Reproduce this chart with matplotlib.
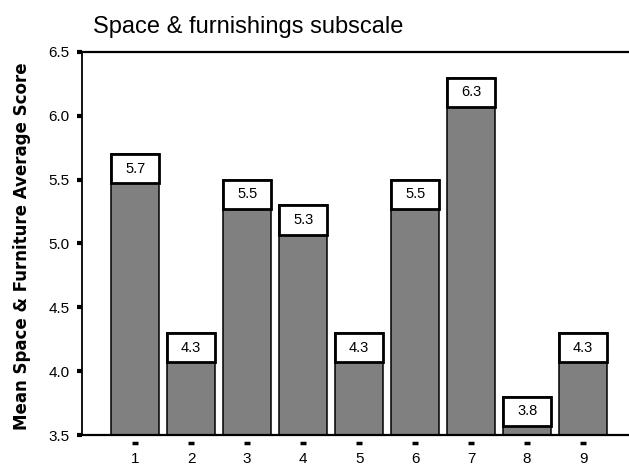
import matplotlib.pyplot as plt
from matplotlib.patches import Rectangle
import matplotlib.transforms as mtransforms

plt.rcParams['font.family'] = ['Liberation Sans', 'DejaVu Sans']

# Mean score per group
groups = ['1', '2', '3', '4', '5', '6', '7', '8', '9']
scores = [5.7, 4.3, 5.5, 5.3, 4.3, 5.5, 6.3, 3.8, 4.3]
yticks = [3.5, 4.0, 4.5, 5.0, 5.5, 6.0, 6.5]

fig = plt.figure(figsize=(6.29, 4.65), dpi=100)
ax = fig.add_axes([82 / 629, 30 / 465, 547 / 629, 383 / 465])

x = list(range(1, len(groups) + 1))
bar_w = 0.86
ax.bar(x, [s - 3.5 for s in scores], bottom=3.5, width=bar_w,
       color='#808080', edgecolor='black', linewidth=1.1, zorder=2)

# value boxes sitting inside the top of each bar
box_h = 0.23
for xi, s in zip(x, scores):
    ax.add_patch(Rectangle((xi - bar_w / 2, s - box_h), bar_w, box_h,
                           facecolor='white', edgecolor='black',
                           linewidth=2.0, zorder=3))
    ax.text(xi, s - box_h / 2, f'{s:.1f}', ha='center', va='center',
            fontsize=10.5, zorder=4)

ax.set_xlim(0.05, 9.82)
ax.set_ylim(3.5, 6.5)
ax.set_yticks(yticks)
ax.set_yticklabels([f'{t:.1f}' for t in yticks], fontsize=11)
ax.set_xticks(x)
ax.set_xticklabels(groups, fontsize=11)

ax.spines['right'].set_visible(False)
for side in ['top', 'bottom']:
    ax.spines[side].set_linewidth(1.6)
ax.spines['left'].set_linewidth(1.3)

ax.tick_params(axis='y', direction='out', length=3.8, width=3, pad=5)
ax.tick_params(axis='x', length=0, pad=12.5)

# detached tick marks under the x axis
trans = mtransforms.blended_transform_factory(ax.transData, ax.transAxes)
ax.plot(x, [-0.021] * len(x), transform=trans, linestyle='none',
        marker='_', markersize=4.5, markeredgewidth=2.5, color='black',
        clip_on=False)

fig.text(93 / 629, 0.928, 'Space & furnishings subscale', fontsize=17,
         ha='left', va='baseline')
fig.text(0.035, 0.47, 'Mean Space & Furniture Average Score', rotation=90,
         ha='center', va='center', fontsize=12, fontweight='bold',
         family='DejaVu Sans')

fig.savefig('out.png', dpi=100)
